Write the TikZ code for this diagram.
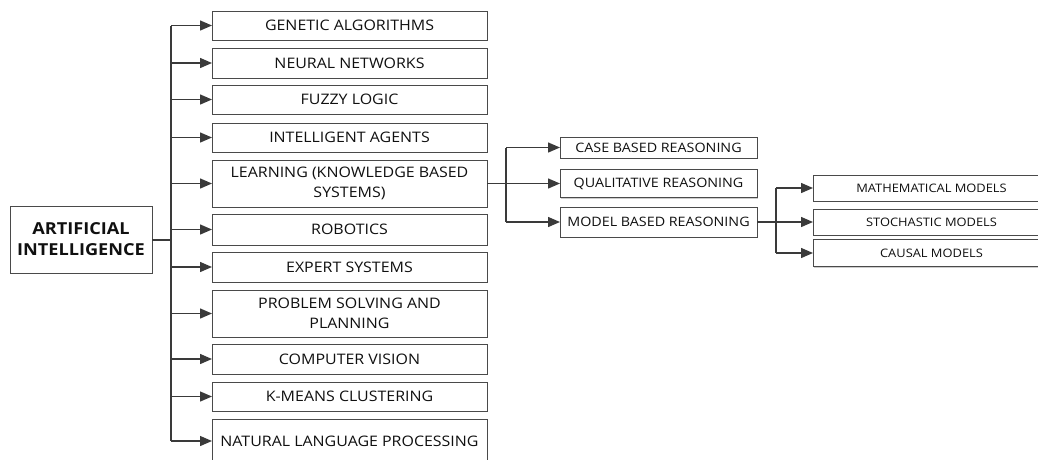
\documentclass[tikz,border=0pt]{standalone}
\usepackage{fontspec}
\setmainfont{Open Sans}[FakeStretch=1.1]
\usetikzlibrary{arrows.meta,shadows,calc}

\definecolor{boxline}{HTML}{4A4A4A}
\definecolor{wire}{HTML}{3A3A3A}
\definecolor{txt}{HTML}{101010}

\tikzset{
  box/.style={draw=boxline, line width=1pt, fill=white, inner sep=0pt,
    outer sep=0pt, align=center, text=txt,
    drop shadow={shadow xshift=1.4pt, shadow yshift=-1.4pt, opacity=0.28, fill=black!70}},
  mainbox/.style={box, minimum width=275pt, font=\fontsize{14.5}{20}\selectfont},
  subbox/.style={box, minimum width=197pt, font=\fontsize{13}{17}\selectfont},
  leafbox/.style={box, minimum width=237pt, font=\fontsize{11.7}{15}\selectfont},
  rootbox/.style={box, minimum width=142pt, minimum height=67pt,
    font=\fontsize{16.5}{21}\selectfont\bfseries},
  trunk/.style={draw=wire, line width=2pt},
  feed/.style={draw=wire, line width=1.4pt},
  arr/.style={feed, -{Triangle[length=12pt,width=10pt]}},
}

\begin{document}
\begin{tikzpicture}[x=1pt, y=-1pt]
\useasboundingbox (0,0) rectangle (1038,459);
\clip (0,0) rectangle (1038,459);

% root
\node[rootbox] (ai) at (81,239.5) {ARTIFICIAL\\INTELLIGENCE};

% first level
\node[mainbox, minimum height=29pt] (ga) at (349.5,25.5)  {GENETIC ALGORITHMS};
\node[mainbox, minimum height=30pt] (nn) at (349.5,63)    {NEURAL NETWORKS};
\node[mainbox, minimum height=29pt] (fl) at (349.5,99.5)  {FUZZY LOGIC};
\node[mainbox, minimum height=29pt] (ia) at (349.5,137.5) {INTELLIGENT AGENTS};
\node[mainbox, minimum height=47pt] (lk) at (349.5,183.5) {LEARNING (KNOWLEDGE BASED\\SYSTEMS)};
\node[mainbox, minimum height=31pt] (ro) at (349.5,229.5) {ROBOTICS};
\node[mainbox, minimum height=30pt] (es) at (349.5,267)   {EXPERT SYSTEMS};
\node[mainbox, minimum height=47pt] (ps) at (349.5,313.5) {PROBLEM SOLVING AND\\PLANNING};
\node[mainbox, minimum height=30pt] (cv) at (349.5,359)   {COMPUTER VISION};
\node[mainbox, minimum height=29pt] (km) at (349.5,396.5) {K-MEANS CLUSTERING};
\node[mainbox, minimum height=44pt] (nl) at (349.5,441)   {NATURAL LANGUAGE PROCESSING};

% second level
\node[subbox, minimum height=21pt] (cb) at (658.5,147.5) {CASE BASED REASONING};
\node[subbox, minimum height=28pt] (qr) at (658.5,183.5) {QUALITATIVE REASONING};
\node[subbox, minimum height=30pt] (mb) at (658.5,222)   {MODEL BASED REASONING};

% third level
\node[leafbox, minimum height=26pt] (mm) at (931.5,188)   {MATHEMATICAL MODELS};
\node[leafbox, minimum height=26pt] (sm) at (931.5,222)   {STOCHASTIC MODELS};
\node[leafbox, minimum height=27pt] (cm) at (931.5,253)   {CAUSAL MODELS};

% junctions
\coordinate (j1) at ($(ai.east)+(19,0)$);
\coordinate (j2) at ($(lk.east)+(19,0)$);
\coordinate (j3) at ($(mb.east)+(19,0)$);

% trunk from the root
\draw[trunk] (ai.east) -- (j1);
\draw[trunk] (j1 |- ga.west) -- (j1 |- nl.west);
\foreach \n in {ga,nn,fl,ia,lk,ro,es,ps,cv,km,nl}
  \draw[arr] (j1 |- \n.west) -- (\n.west);

% reasoning branch
\draw[feed] (lk.east) -- (j2);
\draw[feed] (j2 |- cb.west) -- (j2 |- mb.west);
\foreach \n in {cb,qr,mb}
  \draw[arr] (j2 |- \n.west) -- (\n.west);

% model branch
\draw[feed] (mb.east) -- (j3);
\draw[feed] (j3 |- mm.west) -- (j3 |- cm.west);
\foreach \n in {mm,sm,cm}
  \draw[arr] (j3 |- \n.west) -- (\n.west);
\end{tikzpicture}
\end{document}
